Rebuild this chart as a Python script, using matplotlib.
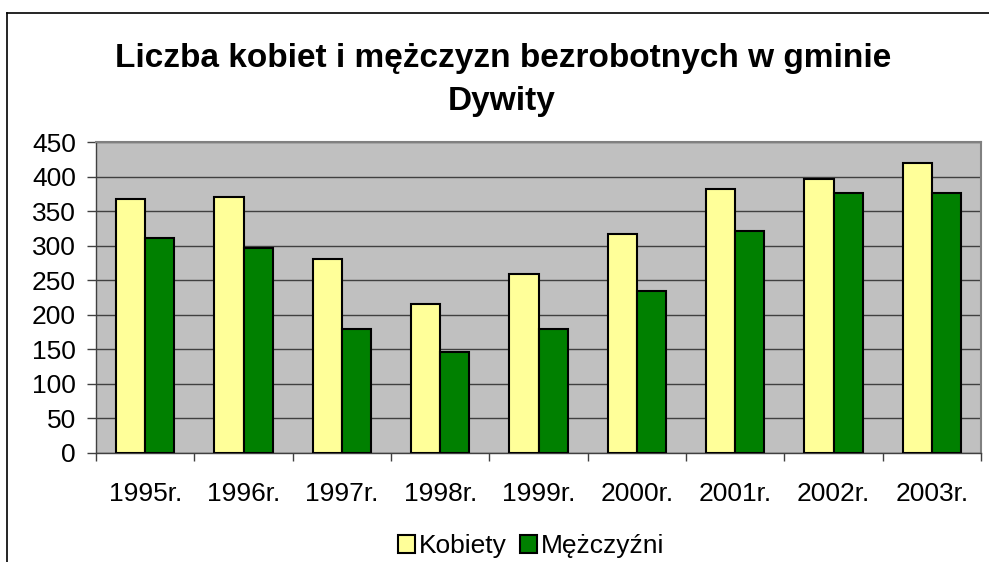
import matplotlib
matplotlib.use("Agg")
import matplotlib.pyplot as plt
import numpy as np
from matplotlib.lines import Line2D

plt.rcParams['font.family'] = ['Liberation Sans', 'DejaVu Sans']

years = ['1995r.', '1996r.', '1997r.', '1998r.', '1999r.', '2000r.', '2001r.', '2002r.', '2003r.']
kobiety = [367, 370, 281, 216, 259, 317, 382, 397, 420]
mezczyzni = [311, 296, 179, 146, 179, 234, 321, 376, 376]
series_names = ['Kobiety', 'Mężczyźni']
yticks = [0, 50, 100, 150, 200, 250, 300, 350, 400, 450]
title_lines = ['Liczba kobiet i mężczyzn bezrobotnych w gminie', 'Dywity']

W, H = 989, 562
fig = plt.figure(figsize=(W / 100, H / 100), dpi=100)
ax = fig.add_axes([96 / W, 1 - 453 / H, (981 - 96) / W, (453 - 142) / H])
ax.set_facecolor('#C0C0C0')

x = np.arange(len(years))
bw = 0.295
ax.bar(x - bw / 2, kobiety, bw, color='#FFFF99', edgecolor='black', linewidth=1.5,
       label=series_names[0], zorder=3)
ax.bar(x + bw / 2, mezczyzni, bw, color='#008000', edgecolor='black', linewidth=1.5,
       label=series_names[1], zorder=3)

ax.set_xlim(-0.5, len(years) - 0.5)
ax.set_ylim(0, 450)
ax.set_yticks(yticks)
ax.set_yticklabels([str(v) for v in yticks], fontsize=19)
ax.yaxis.grid(True, color='#404040', linewidth=1.0, zorder=1)
ax.set_axisbelow(True)

ax.set_xticks(np.arange(-0.5, len(years), 1.0))
ax.set_xticklabels([])
ax.set_xticks(x, minor=True)
ax.set_xticklabels(years, minor=True, fontsize=19)
ax.tick_params(axis='x', which='major', length=6, width=1, color='#404040', direction='out')
ax.tick_params(axis='x', which='minor', length=0, pad=21)
ax.tick_params(axis='y', length=6.5, width=1, color='#404040', pad=8)

for s in ['left', 'bottom']:
    ax.spines[s].set_color('#404040')
    ax.spines[s].set_linewidth(1.0)
for s in ['top', 'right']:
    ax.spines[s].set_color('#808080')
    ax.spines[s].set_linewidth(1.5)

fig.text(503 / W, 1 - 67 / H, title_lines[0], ha='center', va='baseline',
         fontsize=24, fontweight='bold')
fig.text(502 / W, 1 - 110 / H, title_lines[1], ha='center', va='baseline',
         fontsize=24, fontweight='bold')

leg = fig.legend(loc='center', bbox_to_anchor=(531 / W, 1 - 546 / H), ncol=2, frameon=False,
                 fontsize=19, handlelength=0.65, handleheight=0.65, handletextpad=0.15,
                 columnspacing=0.5, borderpad=0)

# outer chart border (left and top visible)
fig.add_artist(Line2D([7 / W, 7 / W], [0, 1 - 13 / H], transform=fig.transFigure,
                      color='black', linewidth=1.2))
fig.add_artist(Line2D([7 / W, 1], [1 - 13 / H, 1 - 13 / H], transform=fig.transFigure,
                      color='black', linewidth=1.2))

fig.savefig('out.png', dpi=100)
